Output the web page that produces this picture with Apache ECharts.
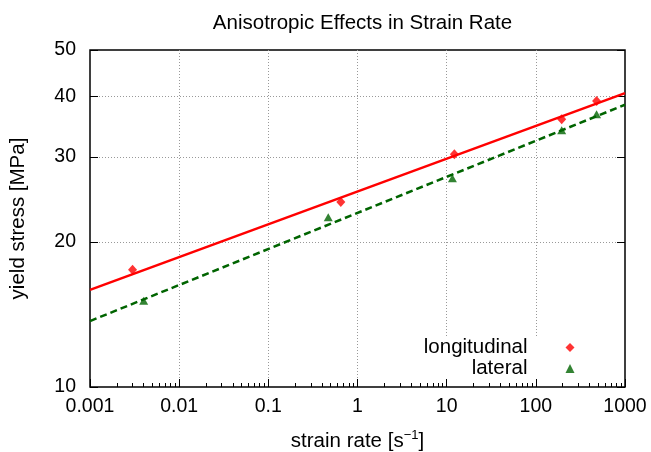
<!DOCTYPE html>
<html>
<head>
<meta charset="utf-8">
<script src="https://cdn.jsdelivr.net/npm/echarts@6/dist/echarts.min.js"></script>
<style>
  html, body { margin: 0; padding: 0; background: #fff; }
  #chart { width: 651px; height: 452px; }
</style>
</head>
<body>
<div id="chart"></div>
<script>
// measured points (strain rate s^-1, yield stress MPa)
const longRate = [0.003, 0.65, 12.2, 195, 480];
const longStress = [17.5, 24.2, 30.4, 35.9, 39.2];
const latRate = [0.004, 0.47, 11.6, 195, 480];
const latStress = [15.1, 22.5, 27.1, 34.1, 36.8];

// fitted power-law lines, end points
const fitRate = [0.001, 1000];
const longFit = [15.9, 40.7];
const latFit = [13.7, 38.5];

const yTicks = [10, 20, 30, 40, 50];

// minor ticks 2..9 in every decade
const xMinor = [];
for (let e = -3; e < 3; e++) {
  for (let m = 2; m <= 9; m++) {
    xMinor.push(+(m * Math.pow(10, e)).toPrecision(3));
  }
}

const font = 'Liberation Sans, Arial, sans-serif';
const pairs = (xs, ys) => xs.map((x, i) => [x, ys[i]]);

const chart = echarts.init(document.getElementById('chart'));

const option = {
  backgroundColor: '#fff',
  animation: false,
  // title centred over the plot area, not the canvas
  title: {
    text: 'Anisotropic Effects in Strain Rate',
    left: 357.5,
    textAlign: 'center',
    top: 8,
    textStyle: { fontFamily: font, fontSize: 20.5, fontWeight: 'normal', color: '#000' }
  },
  grid: {
    left: 90, right: 26, top: 50, bottom: 65,
    outerBoundsMode: 'none',
    show: true, borderColor: '#000', borderWidth: 1.5
  },
  legend: {
    data: ['longitudinal', 'lateral'],
    orient: 'vertical',
    align: 'right',
    right: 56.5,
    top: 337,
    itemWidth: 9,
    itemHeight: 9,
    itemGap: 0,
    backgroundColor: '#fff',
    padding: [0, 20, 0, 10],
    textStyle: { fontFamily: font, fontSize: 20.5, color: '#000', padding: [0, 33, 0, 0] }
  },
  xAxis: [
    {
      type: 'log', logBase: 10, min: 0.001, max: 1000,
      name: '{a|strain rate [s}{s|−1}{a|]}',
      nameLocation: 'middle',
      nameGap: 42,
      nameTextStyle: {
        rich: {
          a: { fontFamily: font, fontSize: 20.5, color: '#000', lineHeight: 24 },
          s: { fontFamily: font, fontSize: 13, color: '#000', lineHeight: 24, verticalAlign: 'top', padding: [0, 0, 9, 0] }
        }
      },
      axisLine: { show: false },
      axisTick: { inside: true, length: 8, lineStyle: { color: '#000', width: 1 } },
      axisLabel: {
        fontFamily: font, fontSize: 19.5, color: '#000', margin: 10,
        formatter: v => String(+Number(v).toPrecision(6))
      },
      splitLine: { show: true, showMinLine: false, showMaxLine: false, lineStyle: { color: '#999', type: [1, 2] } }
    },
    {
      type: 'log', logBase: 10, min: 0.001, max: 1000,
      position: 'bottom',
      axisLine: { show: false },
      axisTick: { inside: true, length: 4, customValues: xMinor, lineStyle: { color: '#000', width: 1 } },
      axisLabel: { show: false },
      splitLine: { show: false }
    }
  ],
  yAxis: [
    {
      type: 'log', logBase: 10, min: 10, max: 50,
      name: 'yield stress [MPa]',
      nameLocation: 'middle',
      nameGap: 61,
      nameTextStyle: { fontFamily: font, fontSize: 20.5, color: '#000' },
      axisLine: { show: false },
      axisTick: { inside: true, length: 8, customValues: yTicks, lineStyle: { color: '#000', width: 1 } },
      axisLabel: { customValues: yTicks, fontFamily: font, fontSize: 19.5, color: '#000', margin: 14 },
      splitLine: { show: true, showMinLine: false, showMaxLine: false, lineStyle: { color: '#999', type: [1, 2] } }
    },
    {
      type: 'log', logBase: 10, min: 10, max: 50,
      position: 'right',
      axisLine: { show: false },
      axisTick: { inside: true, length: 8, customValues: yTicks, lineStyle: { color: '#000', width: 1 } },
      axisLabel: { show: false },
      splitLine: { show: false }
    }
  ],
  series: [
    {
      name: 'longitudinal fit',
      type: 'line',
      data: pairs(fitRate, longFit),
      showSymbol: false,
      lineStyle: { color: '#ff0000', width: 2.5 },
      z: 3
    },
    {
      name: 'lateral fit',
      type: 'line',
      data: pairs(fitRate, latFit),
      showSymbol: false,
      lineStyle: { color: '#006400', width: 2.5, type: [7, 4] },
      z: 3
    },
    {
      name: 'longitudinal',
      type: 'scatter',
      data: pairs(longRate, longStress),
      symbol: 'diamond',
      symbolSize: [9, 10],
      itemStyle: { color: '#ff0000' },
      z: 4
    },
    {
      name: 'lateral',
      type: 'scatter',
      data: pairs(latRate, latStress),
      symbol: 'triangle',
      symbolSize: [9, 8],
      itemStyle: { color: '#006400' },
      z: 4
    }
  ]
};

chart.setOption(option);
</script>
</body>
</html>
